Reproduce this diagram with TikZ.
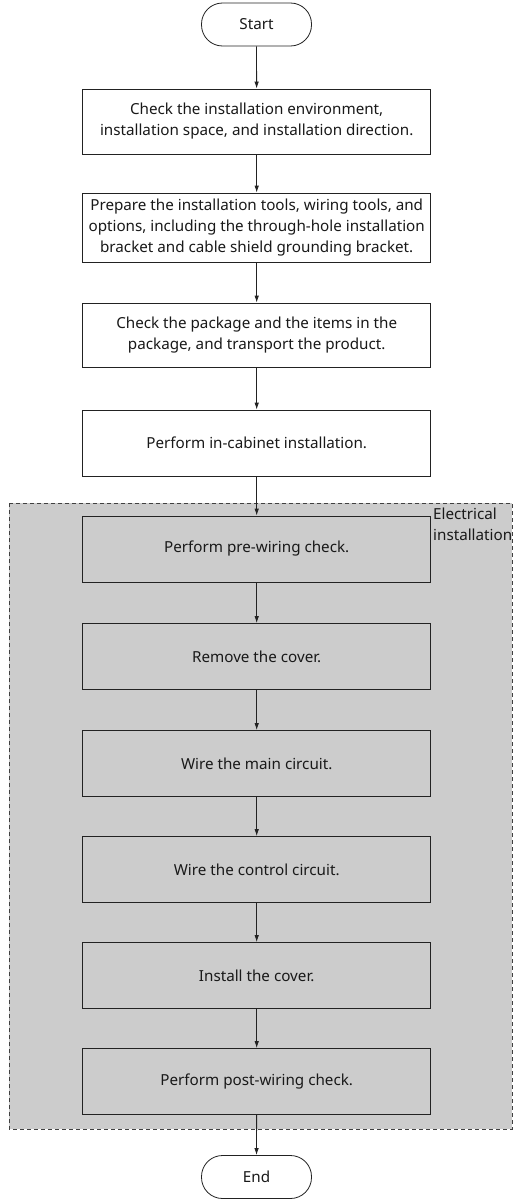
\documentclass[tikz,border=0pt]{standalone}
\usepackage{fontspec}
\setmainfont{Noto Sans}
\usetikzlibrary{arrows.meta}
\definecolor{regiongray}{HTML}{CCCCCC}
\definecolor{linegray}{HTML}{222222}
\tikzset{
  x=1pt, y=-1pt,
  txt/.style={font=\fontsize{15.2}{21}\selectfont, text=black!90},
  stepbox/.style={draw=linegray, line width=0.8pt, minimum width=348pt, inner sep=0pt, align=center, txt},
  whitebox/.style={stepbox, fill=white},
  graybox/.style={stepbox, fill=regiongray},
  terminal/.style={draw=linegray, line width=0.8pt, rounded corners=21pt, minimum width=110pt, minimum height=43pt, inner sep=0pt, fill=white, txt},
  flow/.style={draw=linegray, line width=0.8pt, -{Latex[length=7pt,width=4.5pt]}},
}
\begin{document}
\begin{tikzpicture}
\useasboundingbox (0,0) rectangle (515,1199);
\fill[white] (0,0) rectangle (515,1199);
% region
\draw[fill=regiongray, draw=black!75, dashed, dash pattern=on 4pt off 3pt, line width=0.7pt] (9,503) rectangle (512,1129);
\node[anchor=north west, align=left, inner sep=0pt, txt] (lbl) at (433,508) {Electrical\\installation};

\node[terminal] (start) at (256.5,24.5) {Start};
\node[whitebox, minimum height=65pt] (b1) at (256.7,121.5) {Check the installation environment,\\installation space, and installation direction.};
\node[whitebox, minimum height=69pt] (b2) at (256.7,227.5) {Prepare the installation tools, wiring tools, and\\options, including the through-hole installation\\bracket and cable shield grounding bracket.};
\node[whitebox, minimum height=64pt] (b3) at (256.7,335) {Check the package and the items in the\\package, and transport the product.};
\node[whitebox, minimum height=66pt] (b4) at (256.7,443) {Perform in-cabinet installation.};
\node[graybox, minimum height=66pt] (b5) at (256.7,549) {Perform pre-wiring check.};
\node[graybox, minimum height=66pt] (b6) at (256.7,656.5) {Remove the cover.};
\node[graybox, minimum height=66pt] (b7) at (256.7,763.5) {Wire the main circuit.};
\node[graybox, minimum height=66pt] (b8) at (256.7,869.5) {Wire the control circuit.};
\node[graybox, minimum height=66pt] (b9) at (256.7,975.5) {Install the cover.};
\node[graybox, minimum height=66pt] (b10) at (256.7,1081.5) {Perform post-wiring check.};
\node[terminal] (end) at (256.5,1177) {End};

\draw[flow] (start) -- (b1);
\draw[flow] (b1) -- (b2);
\draw[flow] (b2) -- (b3);
\draw[flow] (b3) -- (b4);
\draw[flow] (b4) -- (b5);
\draw[flow] (b5) -- (b6);
\draw[flow] (b6) -- (b7);
\draw[flow] (b7) -- (b8);
\draw[flow] (b8) -- (b9);
\draw[flow] (b9) -- (b10);
\draw[flow] (b10) -- (end);
\end{tikzpicture}
\end{document}
